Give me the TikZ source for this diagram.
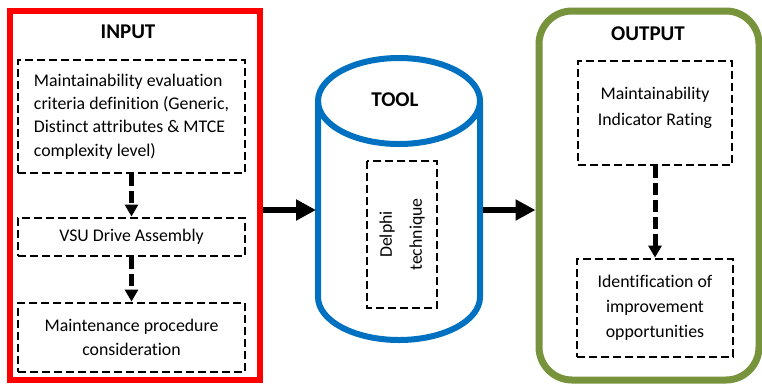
\documentclass[tikz,border=0pt]{standalone}
\usepackage{fontspec}
\setmainfont{Carlito}[Ligatures=NoCommon]
\usetikzlibrary{arrows.meta}
\definecolor{inred}{HTML}{FF0000}
\definecolor{toolblue}{HTML}{0070C0}
\definecolor{outgreen}{HTML}{77933C}
\begin{document}
\begin{tikzpicture}[x=1pt,y=-1pt,
  every node/.style={font=\fontsize{17.8}{23.4}\selectfont},
  dbox/.style={draw, line width=2.9pt, dash pattern=on 8pt off 4pt, inner sep=0pt, align=center},
  titletext/.style={font=\fontsize{21}{25}\selectfont\bfseries, inner sep=0pt},
  bigarr/.style={line width=6.5pt, -{Triangle[length=20pt,width=20pt]}},
  darr/.style={line width=5pt, dash pattern=on 12pt off 5pt, -{Triangle[length=12pt,width=13pt]}},
]
\useasboundingbox (0,0) rectangle (762,384);
\fill[white] (0,0) rectangle (762,384);

% INPUT
\node[draw=inred, line width=6pt, minimum width=250.5pt, minimum height=369pt, inner sep=0pt] (input) at (134.75,195.5) {};
\node[titletext] (inputtitle) at (128,31.5) {INPUT};
\node[dbox, align=left, minimum width=227pt, minimum height=113pt] (crit) at (131.5,116.5)
  {Maintainability evaluation\\criteria definition (Generic,\\Distinct attributes \& MTCE\\complexity level)};
\node[dbox, minimum width=227pt, minimum height=38pt] (vsu) at (131.5,237) {VSU Drive Assembly};
\node[dbox, minimum width=227pt, minimum height=69pt, font=\fontsize{17.8}{24.5}\selectfont] (proc) at (131.5,337.5)
  {Maintenance procedure\\consideration};
\draw[darr] (crit) -- (vsu);
\draw[darr] (vsu) -- (proc);

% TOOL cylinder
\draw[toolblue, line width=6pt] (318,101) -- (318,297)
  .. controls (318,320.7) and (354.3,340) .. (399,340)
  .. controls (443.7,340) and (480,320.7) .. (480,297) -- (480,101);
\draw[toolblue, line width=6pt] (399,101) ellipse [x radius=81pt, y radius=43pt];
\node[titletext] (tooltitle) at (395,100) {TOOL};
\node[dbox, rotate=90, minimum width=147pt, minimum height=70pt, font=\fontsize{17.8}{30}\selectfont] (delphi) at (402,234.5)
  {Delphi\\technique};
\coordinate (toolW) at (316,210);
\coordinate (toolE) at (483,210);

% OUTPUT
\node[draw=outgreen, line width=7pt, rounded corners=33pt, minimum width=220pt, minimum height=369pt, inner sep=0pt] (output) at (649,195.5) {};
\node[titletext] (outputtitle) at (648,33.5) {OUTPUT};
\node[dbox, minimum width=154pt, minimum height=104pt] (mir) at (655,113) {};
\node[align=center, inner sep=0pt, font=\fontsize{17.8}{26}\selectfont] (mirtext) at (655,107.5)
  {Maintainability\\Indicator Rating};
\node[dbox, minimum width=156pt, minimum height=98pt, font=\fontsize{17.8}{25}\selectfont] (ident) at (655,308)
  {Identification of\\improvement\\opportunities};
\draw[darr] (mir) -- (ident);

% main arrows
\draw[bigarr] (input.east |- toolW) -- (toolW);
\draw[bigarr] (toolE) -- (output.west |- toolE);
\end{tikzpicture}
\end{document}
